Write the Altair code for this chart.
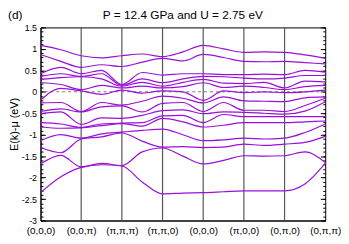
import altair as alt
import pandas as pd

# ---- data ----
k_labels = ["(0,0,0)", "(0,0,π)", "(π,π,π)", "(π,π,0)", "(0,0,0)", "(π,0,0)", "(0,π,0)", "(0,π,π)"]
k_path = [0, 0.5, 1, 1.5, 2, 2.5, 3, 3.5, 4, 4.5, 5, 5.5, 6, 6.5, 7]

# 16 band energies (eV) at each k point along the path
E_G1 = [1.08, 0.87, 0.42, 0.36, 0.29, 0.21, -0.20, -0.26, -0.46, -0.51, -0.72, -0.82, -1.14, -1.30, -1.68, -2.35]
E_GZ = [0.98, 0.71, 0.57, 0.42, 0.33, 0.17, 0.08, -0.25, -0.40, -0.47, -0.75, -0.85, -1.00, -1.42, -1.48, -1.98]
E_Z = [0.84, 0.57, 0.42, 0.36, 0.35, 0.05, 0.02, -0.46, -0.47, -0.76, -0.83, -0.84, -1.08, -1.10, -1.75, -1.76]
E_ZR = [0.79, 0.63, 0.50, 0.42, 0.30, 0.15, -0.06, -0.25, -0.35, -0.61, -0.75, -0.79, -0.98, -1.05, -1.67, -1.70]
E_R = [0.84, 0.59, 0.17, 0.15, 0.13, 0.09, 0.04, -0.31, -0.33, -0.62, -0.73, -0.74, -0.94, -0.96, -1.72, -1.73]
E_RM = [0.88, 0.69, 0.45, 0.30, 0.22, 0.13, -0.03, -0.22, -0.47, -0.55, -0.72, -0.80, -0.90, -1.15, -1.40, -2.10]
E_M = [0.82, 0.78, 0.39, 0.21, 0.13, 0.09, 0.02, -0.10, -0.27, -0.44, -0.56, -0.62, -0.87, -1.29, -1.31, -2.38]
E_MG = [0.93, 0.72, 0.42, 0.30, 0.22, 0.12, 0.00, -0.15, -0.25, -0.42, -0.55, -0.70, -1.00, -1.28, -1.50, -2.36]
E_G2 = [1.08, 0.87, 0.42, 0.36, 0.29, 0.21, -0.20, -0.26, -0.46, -0.51, -0.72, -0.82, -1.14, -1.30, -1.68, -2.35]
E_GX = [1.00, 0.80, 0.40, 0.35, 0.20, 0.10, 0.02, -0.12, -0.25, -0.47, -0.53, -0.78, -1.12, -1.29, -1.60, -2.33]
E_X = [0.92, 0.71, 0.40, 0.32, 0.19, 0.13, -0.02, -0.21, -0.43, -0.48, -0.58, -0.72, -1.08, -1.22, -1.49, -2.31]
E_XY = [0.93, 0.70, 0.41, 0.30, 0.22, 0.10, 0.00, -0.22, -0.43, -0.50, -0.58, -0.72, -1.10, -1.25, -1.50, -2.31]
E_Y = [0.92, 0.71, 0.40, 0.32, 0.09, 0.05, -0.02, -0.23, -0.46, -0.52, -0.58, -0.72, -1.08, -1.22, -1.49, -2.31]
E_YA = [0.86, 0.68, 0.50, 0.38, 0.25, 0.12, 0.00, -0.14, -0.32, -0.45, -0.58, -0.70, -0.95, -1.18, -1.40, -2.15]
E_A = [0.78, 0.65, 0.46, 0.38, 0.23, 0.15, 0.04, -0.12, -0.15, -0.23, -0.58, -0.68, -0.75, -1.04, -1.65, -1.67]

y_major = [-3, -2.5, -2, -1.5, -1, -0.5, 0, 0.5, 1, 1.5]
y_minor = [round(-3 + 0.1 * i, 1) for i in range(46)]
zero_level = [0]
title_text = ["P = 12.4 GPa and U = 2.75 eV"]
panel_tag = ["(d)"]

# ---- build table ----
E_at_k = [E_G1, E_GZ, E_Z, E_ZR, E_R, E_RM, E_M, E_MG, E_G2, E_GX, E_X, E_XY, E_Y, E_YA, E_A]
rows = []
for b in range(16):
    for i, kx in enumerate(k_path):
        rows.append({"band": b, "k": kx, "E": E_at_k[i][b]})
df = pd.DataFrame(rows)
sym_df = pd.DataFrame({"k": list(range(1, len(k_labels) - 1))})
zero_df = pd.DataFrame({"E": zero_level})
tag_df = pd.DataFrame({"t": panel_tag})
title_df = pd.DataFrame({"t": title_text})

FONT = "Liberation Sans"
PURPLE = "#9a10d8"
W, H = 289, 196

xscale = alt.Scale(domain=[0, len(k_labels) - 1], nice=False, zero=False)
yscale = alt.Scale(domain=[-3, 1.5], nice=False, zero=False)

label_expr = "[" + ",".join("'" + s + "'" for s in k_labels) + "][datum.value]"
x_axis = alt.Axis(values=list(range(len(k_labels))), labelExpr=label_expr, tickSize=0,
                  labelPadding=5, domainColor="black", labelFont=FONT, labelFontSize=10,
                  labelColor="black", title=None, grid=False, labelFlush=False)

bands = alt.Chart(df).mark_line(interpolate="monotone", color=PURPLE, strokeWidth=1.2).encode(
    x=alt.X("k:Q", scale=xscale, axis=x_axis),
    y=alt.Y("E:Q", scale=yscale,
            axis=alt.Axis(values=y_major, labelExpr="'' + datum.value", tickSize=0, labelPadding=4,
                          domainColor="black", labelFont=FONT, labelFontSize=9, labelColor="black",
                          title="E(k)-μ (eV)", titleFont=FONT, titleFontSize=11,
                          titleFontWeight="normal", titleColor="black", titlePadding=2, grid=False)),
    detail="band:N",
)

vlines = alt.Chart(sym_df).mark_rule(color="#555555", strokeWidth=1.2).encode(
    x=alt.X("k:Q", scale=xscale, axis=x_axis),
)

def tick_axis(orient, vals, size):
    return alt.Axis(orient=orient, offset=-W, values=vals, tickSize=size, labels=False,
                    domain=False, title=None, grid=False, tickColor="black", tickWidth=1)

zero_line = alt.Chart(zero_df).mark_rule(color="#777777", strokeDash=[3, 3], strokeWidth=1).encode(
    y=alt.Y("E:Q", scale=yscale, axis=tick_axis("right", y_major, 5)),
)
t2 = alt.Chart(zero_df).mark_rule(opacity=0).encode(
    y=alt.Y("E:Q", scale=yscale, axis=tick_axis("right", y_minor, 2.5)),
)
t3 = alt.Chart(zero_df).mark_rule(opacity=0).encode(
    y=alt.Y("E:Q", scale=yscale, axis=tick_axis("left", y_major, 5)),
)
t4 = alt.Chart(zero_df).mark_rule(opacity=0).encode(
    y=alt.Y("E:Q", scale=yscale, axis=tick_axis("left", y_minor, 2.5)),
)

tag = alt.Chart(tag_df).mark_text(align="left", baseline="middle", font=FONT, fontSize=12,
                                  color="black").encode(
    text="t:N", x=alt.value(-33), y=alt.value(-13),
)
title = alt.Chart(title_df).mark_text(align="center", baseline="middle", font=FONT, fontSize=12,
                                      color="black").encode(
    text="t:N", x=alt.value(W / 2), y=alt.value(-13),
)

chart = alt.layer(vlines, zero_line, bands, t2, t3, t4, tag, title).resolve_axis(
    y="independent"
).resolve_scale(y="shared").properties(
    width=W, height=H,
    autosize=alt.AutoSizeParams(type="none"),
    padding={"left": 33, "top": 18, "right": 16, "bottom": 14},
).configure_view(stroke="black", strokeWidth=1)

chart.save("out.html", embed_options={"renderer": "svg", "actions": False})
